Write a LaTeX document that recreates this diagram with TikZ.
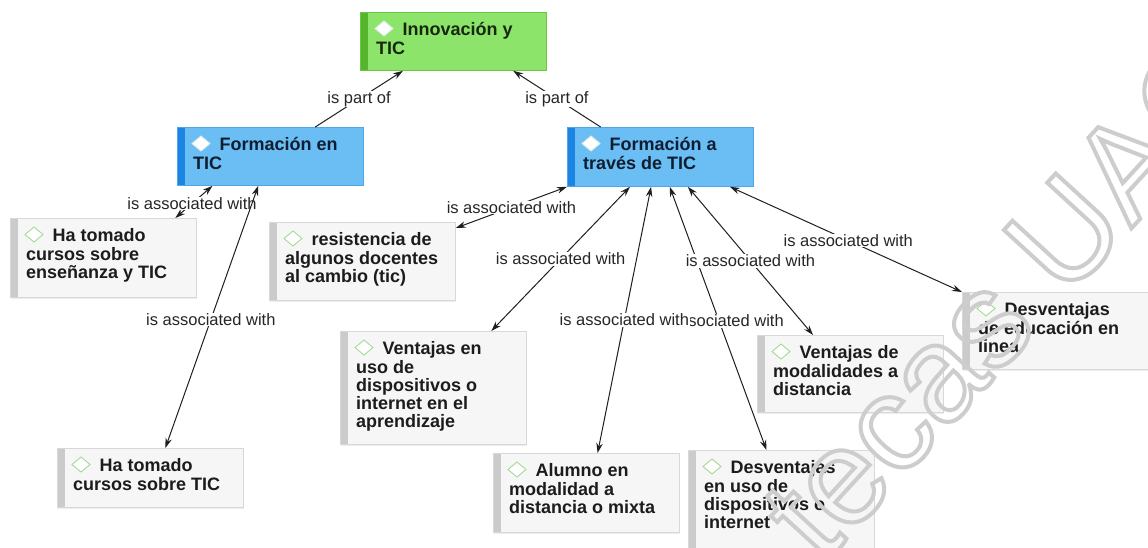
\documentclass[tikz,border=0pt]{standalone}
\usepackage{fontspec}
\setmainfont{Liberation Sans}
\usetikzlibrary{arrows.meta,calc}

\definecolor{cgreen}{HTML}{8DE46A}
\definecolor{cgreenbar}{HTML}{55B52C}
\definecolor{cgreenline}{HTML}{6CC544}
\definecolor{cblue}{HTML}{6ABEF4}
\definecolor{cbluebar}{HTML}{1C84E2}
\definecolor{cblueline}{HTML}{4FA6E6}
\definecolor{cgrey}{HTML}{F6F6F6}
\definecolor{cgreybar}{HTML}{CBCBCB}
\definecolor{cgreyline}{HTML}{D8D8D8}
\definecolor{icongreen}{HTML}{A2DA96}
\definecolor{iconpale}{HTML}{DDEDEA}
\definecolor{inkgrey}{HTML}{1C1C1C}
\definecolor{inkblue}{HTML}{0E1E30}
\definecolor{inkgreen}{HTML}{17280F}
\definecolor{wmgrey}{HTML}{CDCDCD}

\tikzset{
  box/.style={rectangle, anchor=north west, minimum width=186pt, inner sep=0pt, line width=0.8pt},
  stripe/.style={path picture={
      \fill[#1] (path picture bounding box.north west) rectangle ([xshift=8pt]path picture bounding box.south west);}},
  softshadow/.style={preaction={fill=black, fill opacity=0.07,
      transform canvas={xshift=1pt, yshift=-2pt}}},
  topicbox/.style={box, fill=cgreen, draw=cgreenline, stripe=cgreenbar},
  groupbox/.style={box, fill=cblue, draw=cblueline, stripe=cbluebar},
  conceptbox/.style={box, softshadow, fill=cgrey, draw=cgreyline, stripe=cgreybar},
  ctext/.style={align=left, inner sep=0pt, anchor=north west,
      font=\fontsize{18}{18.3}\selectfont\bfseries},
  lbl/.style={fill=white, inner sep=0.6pt, text=black!85,
      font=\fontsize{16.5}{16.5}\selectfont},
  tip/.tip={Stealth[length=10pt,width=6.5pt]},
  assoc/.style={draw=black!88, line width=1pt, tip-tip},
  partof/.style={draw=black!88, line width=1pt, -tip},
  wm/.style={text=wmgrey, inner sep=0pt,
      font=\fontsize{135}{135}\selectfont},
}

% #1 name, #2 box style, #3 x, #4 y, #5 height, #6 text colour, #7 icon style, #8 text
\newcommand\cnode[8]{%
  \node[#2, minimum height=#5pt] (#1) at (#3,#4) {};
  \draw[#7] ($(#1.north west)+(15,16.5)$) -- ++(9,-7.5) -- ++(9,7.5) -- ++(-9,7.5) -- cycle;
  \node[ctext, text=#6] (#1-text) at ($(#1.north west)+(16,9.5)$)
    {\rule{0pt}{14pt}\hspace*{26.5pt}#8};
}

\begin{document}
\begin{tikzpicture}[x=1pt, y=-1pt,
    greenicon/.style={draw=icongreen, line width=0.9pt, fill=white},
    paleicon/.style={draw=iconpale, line width=0.9pt, fill=white}]
\useasboundingbox (0,0) rectangle (1148,547);
\fill[white] (0,0) rectangle (1148,547);

% concepts
\cnode{in}{topicbox}{360}{12}{58}{inkgreen}{paleicon}{Innovación y\\TIC}
\cnode{fe}{groupbox}{177}{127}{58}{inkblue}{paleicon}{Formación en\\TIC}
\cnode{ft}{groupbox}{567}{127}{59}{inkblue}{paleicon}{Formación a\\través de TIC}
\cnode{he}{conceptbox}{10}{218}{79}{inkgrey}{greenicon}{Ha tomado\\cursos sobre\\enseñanza y TIC}
\cnode{ht}{conceptbox}{57}{448}{59}{inkgrey}{greenicon}{Ha tomado\\cursos sobre TIC}
\cnode{res}{conceptbox}{269}{222}{78}{inkgrey}{greenicon}{resistencia de\\algunos docentes\\al cambio (tic)}
\cnode{vu}{conceptbox}{340}{331}{113}{inkgrey}{greenicon}{Ventajas en\\uso de\\dispositivos o\\internet en el\\aprendizaje}
\cnode{al}{conceptbox}{493}{453}{79}{inkgrey}{greenicon}{Alumno en\\modalidad a\\distancia o mixta}
\cnode{du}{conceptbox}{688}{450}{102}{inkgrey}{greenicon}{Desventajas\\en uso de\\dispositivos o\\internet}
\cnode{vm}{conceptbox}{757}{335}{77}{inkgrey}{greenicon}{Ventajas de\\modalidades a\\distancia}
\cnode{de}{conceptbox}{962}{292}{77}{inkgrey}{greenicon}{Desventajas\\de educación en\\linea}

% hierarchy
\draw[partof] ($(fe.north west)!0.74!(fe.north east)$) -- node[lbl] (l-fe) {is part of}
  ($(in.south west)!0.23!(in.south east)$);
\draw[partof] ($(ft.north west)!0.18!(ft.north east)$) -- node[lbl] (l-ft) {is part of}
  ($(in.south west)!0.82!(in.south east)$);

% associations of Formación en TIC
\draw[assoc] ($(fe.south west)!0.19!(fe.south east)$) -- node[lbl, pos=0.55] (l-he) {is associated with}
  ($(he.north west)!0.885!(he.north east)$);
\draw[assoc] ($(fe.south west)!0.435!(fe.south east)$) -- node[lbl, pos=0.51] (l-ht) {is associated with}
  ($(ht.north west)!0.58!(ht.north east)$);

% associations of Formación a través de TIC
\draw[assoc] (ft.south west) -- node[lbl] (l-res) {is associated with}
  ($(res.north east)+(0,6)$);
\draw[assoc] ($(ft.south west)!0.337!(ft.south east)$) -- node[lbl] (l-vu) {is associated with}
  ($(vu.north west)!0.81!(vu.north east)$);
\draw[assoc] ($(ft.south west)!0.55!(ft.south east)$) -- node[lbl, pos=0.51] (l-du) {is associated with}
  ($(du.north west)!0.42!(du.north east)$);
\draw[assoc] ($(ft.south west)!0.45!(ft.south east)$) -- node[lbl] (l-al) {is associated with}
  ($(al.north west)!0.56!(al.north east)$);
\draw[assoc] ($(ft.south west)!0.647!(ft.south east)$) -- node[lbl] (l-vm) {is associated with}
  ($(vm.north west)!0.30!(vm.north east)$);
\draw[assoc] ($(ft.south west)!0.872!(ft.south east)$) -- node[lbl, pos=0.51] (l-de) {is associated with}
  (de.north west);

% library watermark, outlined letters
\begin{scope}
  \clip (0,0) rectangle (1148,547);
  \node[wm, rotate=47.5, anchor=base west] (mark) at (822,566)
    {\special{pdf:literal direct 1 Tr 4 w}tecas UAQ\special{pdf:literal direct 0 Tr}};
\end{scope}
\end{tikzpicture}
\end{document}
